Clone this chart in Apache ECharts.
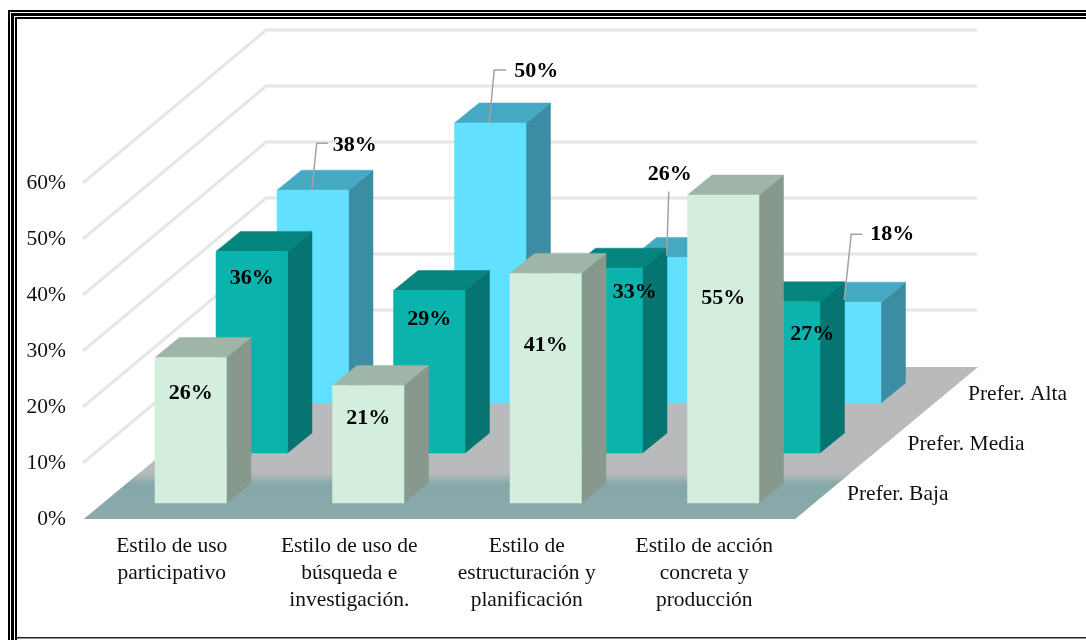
<!DOCTYPE html>
<html>
<head>
<meta charset="utf-8">
<style>html,body{margin:0;padding:0;background:#fff}#c{width:1086px;height:640px}</style>
<script src="https://cdn.jsdelivr.net/npm/echarts@6/dist/echarts.min.js"></script>
</head>
<body>
<div id="c"></div>
<script>
// ---- data ----
const categories = ['Estilo de uso\nparticipativo', 'Estilo de uso de\nbúsqueda e\ninvestigación.', 'Estilo de\nestructuración y\nplanificación', 'Estilo de acción\nconcreta y\nproducción'];
const rowNames = ['Prefer. Baja', 'Prefer. Media', 'Prefer. Alta'];
const prefBaja = [26, 21, 41, 55];
const prefMedia = [36, 29, 33, 27];
const prefAlta = [38, 50, 26, 18];
const tickValues = [10, 20, 30, 40, 50, 60];

// ---- layout and style constants (pixels / colours) ----
const FONT = '"Liberation Serif"';
const BAR_W = 71.5, DEPTH_X = 24.5, DEPTH_Y = 20;
const ROW_DX = [17, 78, 139], ROW_DY = [16, 66, 116];
const WALL_DX = 181, WALL_DY = 151;
const PALETTE = [
  {front: '#d3eedd', top: '#9fb5a7', side: '#87998c'},
  {front: '#0bb3ad', top: '#06847e', side: '#067470'},
  {front: '#62e0ff', top: '#46a9c3', side: '#3c8ca4'}
];
const INNER_LABEL = [
  {dx: [0, 0, 0, 0], dy: [36, 33, 72, 103]},
  {dx: [0, 0, 28, 28], dy: [27, 29, 24, 33]}
];
const CALLOUT = [
  {pts: [[-1, 0], [4, -47], [15, -47]], text: [42, -45]},
  {pts: [[-1, 0], [4, -53], [16, -53]], text: [46, -52]},
  {pts: [[-1, -2], [1, -66]], text: [2, -83]},
  {pts: [[-1, -2], [6, -68], [17, -68]], text: [47, -68]}
];

function barItem(row) {
  return function (params, api) {
    const cat = api.value(0), val = api.value(1);
    const p0 = api.coord([cat, 0]), p1 = api.coord([cat, val]);
    const cx = p0[0] + ROW_DX[row], l = cx - BAR_W / 2, r = cx + BAR_W / 2;
    const b = p0[1] - ROW_DY[row], t = p1[1] - ROW_DY[row];
    const c = PALETTE[row];
    const poly = (points, fill) => ({type: 'polygon', shape: {points}, style: {fill, stroke: fill, lineWidth: 0.5}});
    return {type: 'group', children: [
      poly([[r, b], [r + DEPTH_X, b - DEPTH_Y], [r + DEPTH_X, t - DEPTH_Y], [r, t]], c.side),
      poly([[l, t], [r, t], [r + DEPTH_X, t - DEPTH_Y], [l + DEPTH_X, t - DEPTH_Y]], c.top),
      poly([[l, b], [r, b], [r, t], [l, t]], c.front)
    ]};
  };
}
function valueText(x, y, v) {
  return {type: 'text', style: {x, y, text: v + '%', fill: '#000', align: 'center', verticalAlign: 'middle', font: 'bold 22px ' + FONT}};
}
function labelItem(row) {
  return function (params, api) {
    const cat = api.value(0), val = api.value(1);
    const p0 = api.coord([cat, 0]), p1 = api.coord([cat, val]);
    const cx = p0[0] + ROW_DX[row], t = p1[1] - ROW_DY[row];
    if (row < 2) {
      return valueText(cx + INNER_LABEL[row].dx[cat], t + INNER_LABEL[row].dy[cat], val);
    }
    const co = CALLOUT[cat];
    return {type: 'group', children: [
      {type: 'polyline', shape: {points: co.pts.map(q => [cx + q[0], t + q[1]])}, style: {fill: 'none', stroke: '#a3a3a3', lineWidth: 1.5}},
      valueText(cx + co.text[0], t + co.text[1], val)
    ]};
  };
}
const pairs = arr => arr.map((v, i) => [i, v]);

const option = {
  animation: false,
  backgroundColor: '#fff',
  grid: {left: 85, top: 183, width: 710, height: 336},
  xAxis: {
    type: 'category', data: categories,
    axisLine: {show: false}, axisTick: {show: false}, splitLine: {show: false},
    axisLabel: {margin: 14, interval: 0, color: '#111', fontFamily: FONT, fontSize: 21.5, lineHeight: 27, align: 'center', verticalAlign: 'top', padding: [0, 4, 0, 0]}
  },
  yAxis: {
    type: 'value', min: 0, max: 60, interval: 10,
    axisLine: {show: false}, axisTick: {show: false}, splitLine: {show: false},
    axisLabel: {margin: 19, formatter: '{value}%', color: '#111', fontFamily: FONT, fontSize: 21.5}
  },
  graphic: [
    // outer frame
    ...[[10, 2], [13, 3], [17, 2]].map(a => ({type: 'rect', silent: true, z: 100, shape: {x: a[0] - 2, y: a[0], width: 1086, height: a[1]}, style: {fill: '#000'}})),
    ...[[8, 2], [11, 3], [15, 2]].map(a => ({type: 'rect', silent: true, z: 100, shape: {x: a[0], y: a[0] + 2, width: a[1], height: 640}, style: {fill: '#000'}})),
    {type: 'rect', silent: true, z: 100, shape: {x: 15, y: 637, width: 1071, height: 1.5}, style: {fill: '#222'}}
  ],
  series: [
    {
      name: 'Paredes', type: 'custom', z: 1, silent: true, data: tickValues.map(v => [0, v]),
      encode: {x: 0, y: 1}, clip: false,
      renderItem(params, api) {
        const y = api.coord([0, api.value(1)])[1], x = params.coordSys.x - 2, right = params.coordSys.x + params.coordSys.width + WALL_DX + 1;
        return {type: 'polyline', shape: {points: [[x, y], [x + WALL_DX + 2, y - WALL_DY - 2], [right, y - WALL_DY - 2]]}, style: {fill: 'none', stroke: '#e6e6e6', lineWidth: 3}};
      }
    },
    {
      name: 'Suelo', type: 'custom', z: 2, silent: true, data: [[0, 0]],
      encode: {x: 0, y: 1}, clip: false,
      renderItem(params, api) {
        const y0 = api.coord([0, 0])[1], x0 = params.coordSys.x - 1, x1 = params.coordSys.x + params.coordSys.width;
        const xs = WALL_DX + 2, ys = WALL_DY + 1;
        const f = 46 / ys;
        return {type: 'group', children: [
          {type: 'polygon', shape: {points: [[x0, y0], [x1, y0], [x1 + xs, y0 - ys], [x0 + xs, y0 - ys]]}, style: {fill: '#b8babc'}},
          {type: 'polygon', shape: {points: [[x0, y0], [x1, y0], [x1 + xs * f, y0 - 46], [x0 + xs * f, y0 - 46]]}, style: {
            fill: {type: 'linear', x: 0, y: 0, x2: 0, y2: 1, colorStops: [{offset: 0, color: '#b8babc'}, {offset: 0.25, color: '#85a8aa'}, {offset: 1, color: '#8aa9ab'}]}
          }}
        ]};
      }
    },
    {name: rowNames[2], type: 'custom', z: 3, silent: true, data: pairs(prefAlta), encode: {x: 0, y: 1}, clip: false, renderItem: barItem(2)},
    {name: rowNames[1], type: 'custom', z: 4, silent: true, data: pairs(prefMedia), encode: {x: 0, y: 1}, clip: false, renderItem: barItem(1)},
    {name: rowNames[0], type: 'custom', z: 5, silent: true, data: pairs(prefBaja), encode: {x: 0, y: 1}, clip: false, renderItem: barItem(0)},
    {type: 'custom', z: 6, silent: true, data: pairs(prefAlta), encode: {x: 0, y: 1}, clip: false, renderItem: labelItem(2)},
    {type: 'custom', z: 6, silent: true, data: pairs(prefMedia), encode: {x: 0, y: 1}, clip: false, renderItem: labelItem(1)},
    {type: 'custom', z: 6, silent: true, data: pairs(prefBaja), encode: {x: 0, y: 1}, clip: false, renderItem: labelItem(0)},
    {
      name: 'Filas', type: 'custom', z: 6, silent: true, data: rowNames.map((n, i) => [0, 0, i]),
      encode: {x: 0, y: 1}, clip: false,
      renderItem(params, api) {
        const i = api.value(2), y0 = api.coord([0, 0])[1];
        const x = params.coordSys.x + params.coordSys.width + 52 + i * 60.5, y = y0 - 25 - i * 50;
        return {type: 'text', style: {x, y, text: rowNames[i], fill: '#111', align: 'left', verticalAlign: 'middle', font: '21.5px ' + FONT}};
      }
    }
  ]
};
const chart = echarts.init(document.getElementById('c'), null, {renderer: 'canvas'});
chart.setOption(option);
</script>
</body>
</html>
